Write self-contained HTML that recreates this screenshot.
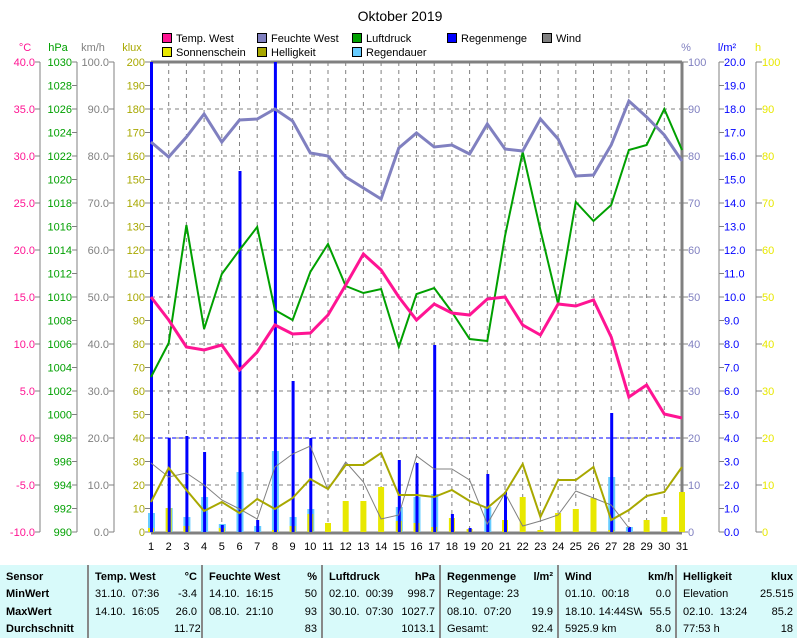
<!DOCTYPE html>
<html><head><meta charset="utf-8"><style>
body{margin:0;background:#fff;width:797px;height:638px;overflow:hidden;font-family:"Liberation Sans",sans-serif}
svg text{font-family:"Liberation Sans",sans-serif;font-size:11px}
table{position:absolute;left:0;top:565px;width:797px;height:73px;background:#d8fafa;border-collapse:collapse;font-size:11px;font-family:"Liberation Sans",sans-serif;table-layout:fixed}
td{padding:0 4px 0 6px;height:17px;line-height:15px;white-space:nowrap;overflow:hidden}
tr:first-child td{padding-top:4px}
td.s{border-left:2px solid #888}
.b{font-weight:bold}
.r{text-align:right}
</style></head><body>
<svg id="s" width="797" height="565" style="position:absolute;left:0;top:0">
<text x="400" y="21" text-anchor="middle" style="font-size:14px">Oktober 2019</text>
<g stroke="#000" stroke-width="1">
<rect x="162.5" y="33.5" width="9" height="9" fill="#ff1493"/>
<rect x="162.5" y="47.5" width="9" height="9" fill="#e8e800"/>
<rect x="257.5" y="33.5" width="9" height="9" fill="#8080c0"/>
<rect x="257.5" y="47.5" width="9" height="9" fill="#a8a800"/>
<rect x="352.5" y="33.5" width="9" height="9" fill="#00a000"/>
<rect x="352.5" y="47.5" width="9" height="9" fill="#66ccff"/>
<rect x="447.5" y="33.5" width="9" height="9" fill="#0000ff"/>
<rect x="542.5" y="33.5" width="9" height="9" fill="#808080"/>
</g>
<text x="176" y="42">Temp. West</text><text x="176" y="56">Sonnenschein</text>
<text x="271" y="42">Feuchte West</text><text x="271" y="56">Helligkeit</text>
<text x="366" y="42">Luftdruck</text><text x="366" y="56">Regendauer</text>
<text x="461" y="42">Regenmenge</text><text x="556" y="42">Wind</text>
<text x="25" y="51" fill="#ff1493" text-anchor="middle">°C</text>
<text x="58" y="51" fill="#00a000" text-anchor="middle">hPa</text>
<text x="93" y="51" fill="#808080" text-anchor="middle">km/h</text>
<text x="132" y="51" fill="#a8a800" text-anchor="middle">klux</text>
<text x="686" y="51" fill="#8080c0" text-anchor="middle">%</text>
<text x="727" y="51" fill="#0000ff" text-anchor="middle">l/m²</text>
<text x="758" y="51" fill="#e8e800" text-anchor="middle">h</text>
<g id="g"></g>
<g fill="#ff1493" text-anchor="end">
<text x="35" y="66">40.0</text><text x="35" y="113">35.0</text><text x="35" y="160">30.0</text><text x="35" y="207">25.0</text><text x="35" y="254">20.0</text><text x="35" y="301">15.0</text><text x="35" y="348">10.0</text><text x="35" y="395">5.0</text><text x="35" y="442">0.0</text><text x="35" y="489">-5.0</text><text x="35" y="536">-10.0</text></g>
<g fill="#00a000" text-anchor="end">
<text x="72" y="66">1030</text><text x="72" y="89.5">1028</text><text x="72" y="113">1026</text><text x="72" y="136.5">1024</text><text x="72" y="160">1022</text><text x="72" y="183.5">1020</text><text x="72" y="207">1018</text><text x="72" y="230.5">1016</text><text x="72" y="254">1014</text><text x="72" y="277.5">1012</text><text x="72" y="301">1010</text><text x="72" y="324.5">1008</text><text x="72" y="348">1006</text><text x="72" y="371.5">1004</text><text x="72" y="395">1002</text><text x="72" y="418.5">1000</text><text x="72" y="442">998</text><text x="72" y="465.5">996</text><text x="72" y="489">994</text><text x="72" y="512.5">992</text><text x="72" y="536">990</text></g>
<g fill="#808080" text-anchor="end">
<text x="109" y="66">100.0</text><text x="109" y="113">90.0</text><text x="109" y="160">80.0</text><text x="109" y="207">70.0</text><text x="109" y="254">60.0</text><text x="109" y="301">50.0</text><text x="109" y="348">40.0</text><text x="109" y="395">30.0</text><text x="109" y="442">20.0</text><text x="109" y="489">10.0</text><text x="109" y="536">0.0</text></g>
<g fill="#a8a800" text-anchor="end">
<text x="145" y="66">200</text><text x="145" y="89.5">190</text><text x="145" y="113">180</text><text x="145" y="136.5">170</text><text x="145" y="160">160</text><text x="145" y="183.5">150</text><text x="145" y="207">140</text><text x="145" y="230.5">130</text><text x="145" y="254">120</text><text x="145" y="277.5">110</text><text x="145" y="301">100</text><text x="145" y="324.5">90</text><text x="145" y="348">80</text><text x="145" y="371.5">70</text><text x="145" y="395">60</text><text x="145" y="418.5">50</text><text x="145" y="442">40</text><text x="145" y="465.5">30</text><text x="145" y="489">20</text><text x="145" y="512.5">10</text><text x="145" y="536">0</text></g>
<g fill="#8080c0">
<text x="688" y="66">100</text><text x="688" y="113">90</text><text x="688" y="160">80</text><text x="688" y="207">70</text><text x="688" y="254">60</text><text x="688" y="301">50</text><text x="688" y="348">40</text><text x="688" y="395">30</text><text x="688" y="442">20</text><text x="688" y="489">10</text><text x="688" y="536">0</text></g>
<g fill="#0000ff">
<text x="724" y="66">20.0</text><text x="724" y="89.5">19.0</text><text x="724" y="113">18.0</text><text x="724" y="136.5">17.0</text><text x="724" y="160">16.0</text><text x="724" y="183.5">15.0</text><text x="724" y="207">14.0</text><text x="724" y="230.5">13.0</text><text x="724" y="254">12.0</text><text x="724" y="277.5">11.0</text><text x="724" y="301">10.0</text><text x="724" y="324.5">9.0</text><text x="724" y="348">8.0</text><text x="724" y="371.5">7.0</text><text x="724" y="395">6.0</text><text x="724" y="418.5">5.0</text><text x="724" y="442">4.0</text><text x="724" y="465.5">3.0</text><text x="724" y="489">2.0</text><text x="724" y="512.5">1.0</text><text x="724" y="536">0.0</text></g>
<g fill="#e8e800">
<text x="762" y="66">100</text><text x="762" y="113">90</text><text x="762" y="160">80</text><text x="762" y="207">70</text><text x="762" y="254">60</text><text x="762" y="301">50</text><text x="762" y="348">40</text><text x="762" y="395">30</text><text x="762" y="442">20</text><text x="762" y="489">10</text><text x="762" y="536">0</text></g>
<g text-anchor="middle">
<text x="151" y="550">1</text><text x="168.7" y="550">2</text><text x="186.4" y="550">3</text><text x="204.1" y="550">4</text><text x="221.8" y="550">5</text><text x="239.5" y="550">6</text><text x="257.2" y="550">7</text><text x="274.9" y="550">8</text><text x="292.6" y="550">9</text><text x="310.3" y="550">10</text><text x="328" y="550">11</text><text x="345.7" y="550">12</text><text x="363.4" y="550">13</text><text x="381.1" y="550">14</text><text x="398.8" y="550">15</text><text x="416.5" y="550">16</text><text x="434.2" y="550">17</text><text x="451.9" y="550">18</text><text x="469.6" y="550">19</text><text x="487.3" y="550">20</text><text x="505" y="550">21</text><text x="522.7" y="550">22</text><text x="540.4" y="550">23</text><text x="558.1" y="550">24</text><text x="575.8" y="550">25</text><text x="593.5" y="550">26</text><text x="611.2" y="550">27</text><text x="628.9" y="550">28</text><text x="646.6" y="550">29</text><text x="664.3" y="550">30</text><text x="682" y="550">31</text></g>
</svg>
<table>
<colgroup><col style="width:88px"><col style="width:80px"><col style="width:34px"><col style="width:90px"><col style="width:30px"><col style="width:72px"><col style="width:46px"><col style="width:84px"><col style="width:34px"><col style="width:84px"><col style="width:34px"><col style="width:78px"><col style="width:43px"></colgroup>
<tr><td class="b">Sensor</td><td class="s b">Temp. West</td><td class="b r">°C</td><td class="s b">Feuchte West</td><td class="b r">%</td><td class="s b">Luftdruck</td><td class="b r">hPa</td><td class="s b">Regenmenge</td><td class="b r">l/m²</td><td class="s b">Wind</td><td class="b r">km/h</td><td class="s b">Helligkeit</td><td class="b r">klux</td></tr>
<tr><td class="b">MinWert</td><td class="s">31.10.&nbsp; 07:36</td><td class="r">-3.4</td><td class="s">14.10.&nbsp; 16:15</td><td class="r">50</td><td class="s">02.10.&nbsp; 00:39</td><td class="r">998.7</td><td class="s">Regentage: 23</td><td class="r"></td><td class="s">01.10.&nbsp; 00:18</td><td class="r">0.0</td><td class="s">Elevation</td><td class="r">25.515</td></tr>
<tr><td class="b">MaxWert</td><td class="s">14.10.&nbsp; 16:05</td><td class="r">26.0</td><td class="s">08.10.&nbsp; 21:10</td><td class="r">93</td><td class="s">30.10.&nbsp; 07:30</td><td class="r">1027.7</td><td class="s">08.10.&nbsp; 07:20</td><td class="r">19.9</td><td class="s">18.10.&nbsp;14:44SW</td><td class="r">55.5</td><td class="s">02.10.&nbsp; 13:24</td><td class="r">85.2</td></tr>
<tr><td class="b">Durchschnitt</td><td class="s"></td><td class="r">11.72</td><td class="s"></td><td class="r">83</td><td class="s"></td><td class="r">1013.1</td><td class="s">Gesamt:</td><td class="r">92.4</td><td class="s">5925.9 km</td><td class="r">8.0</td><td class="s">77:53 h</td><td class="r">18</td></tr>
</table>
<script>
var g=document.getElementById('g'),h='';
function X(d){return 151+(d-1)*17.7}
function L(x1,y1,x2,y2,c,w,da){h+='<line x1="'+x1+'" y1="'+y1+'" x2="'+x2+'" y2="'+y2+'" stroke="'+c+'" stroke-width="'+(w||1)+'"'+(da?' stroke-dasharray="'+da+'"':'')+'/>';}
for(var d=2;d<=30;d++)L(X(d),62,X(d),532,'#808080',1,'4,4');
for(var i=1;i<10;i++)L(151,62+i*47,682,62+i*47,'#808080',1,'4,4');
L(151,438,682,438,'#0000ff',1,'4,3');
[[40,'#808080'],[77,'#808080'],[114,'#808080'],[756,'#808080'],[719,'#808080']].forEach(function(a){L(a[0],62,a[0],532,a[1])});
for(var y=62;y<=532.5;y+=23.5){L(72,y,77,y,'#808080');L(145,y,151,y,'#808080');L(719,y,724,y,'#808080');}
for(var y=62;y<=532.5;y+=47){L(35,y,40,y,'#808080');L(109,y,114,y,'#808080');L(682,y,688,y,'#808080');L(756,y,762,y,'#808080');}
L(151,62,682,62,'#808080',3);L(682,62,682,532,'#808080',3);L(151,533,682,533,'#808080',3);
var sun={1:528,2:508,3:526,5:528,8:530,9:526,10:514,11:523,12:501,13:501,14:487,15:521,16:523,17:527,18:518,19:529,21:520,22:497,23:530,24:513,25:509,26:498,27:530,29:520,30:517,31:492};
var dur={1:513,2:508,3:517,4:497,5:524,6:472,7:526,8:451,9:517,10:509,15:507,16:497,17:494,20:507,27:477,28:527};
var rain={1:62,2:438,3:436,4:452,5:525,6:171,7:520,8:62,9:381,10:438,15:460,16:463,17:345,18:514,19:528,20:474,21:492,27:413,28:527};
for(var k in dur)h+='<rect x="'+(X(k)-3)+'" y="'+dur[k]+'" width="7" height="'+(532-dur[k])+'" fill="#66ccff"/>';
for(var k in sun)h+='<rect x="'+(X(k)-3)+'" y="'+sun[k]+'" width="6" height="'+(532-sun[k])+'" fill="#e8e800"/>';
for(var k in rain)h+='<rect x="'+(X(k)-1)+'" y="'+rain[k]+'" width="3" height="'+(532-rain[k])+'" fill="#0000ff"/>';
function P(a,c,w){var p=a.map(function(v,i){return X(i+1)+','+v}).join(' ');h+='<polyline points="'+p+'" fill="none" stroke="'+c+'" stroke-width="'+w+'"/>';}
P([463,477,473,485,500,509,519,467,454,446,490,462,482,519,515,456,469,469,480,524,493,526,521,515,491,498,505,528],'#808080',1);
P([502,468,490,511,502,513,499,509,498,479,489,465,465,453,495,495,497,490,501,508,493,464,517,480,480,467,520,510,496,492,467],'#a8a800',2);
P([377,343,225,329,274,250,227,310,320,272,244,286,293,289,347,294,288,312,339,341,236,152,230,304,202,221,205,150,145,109,150],'#00a000',2);
P([142,157,137,114,142,120,119,109,121,153,156,177,188,199,148,133,147,145,154,124,149,151,119,139,176,175,145,101,117,135,161],'#8080c0',3);
P([297,320,347,350,345,370,352,325,334,333,315,285,254,270,297,320,304,313,315,299,297,325,335,304,306,300,337,397,385,414,418],'#ff1493',3);
g.innerHTML=h;
</script>
</body></html>
